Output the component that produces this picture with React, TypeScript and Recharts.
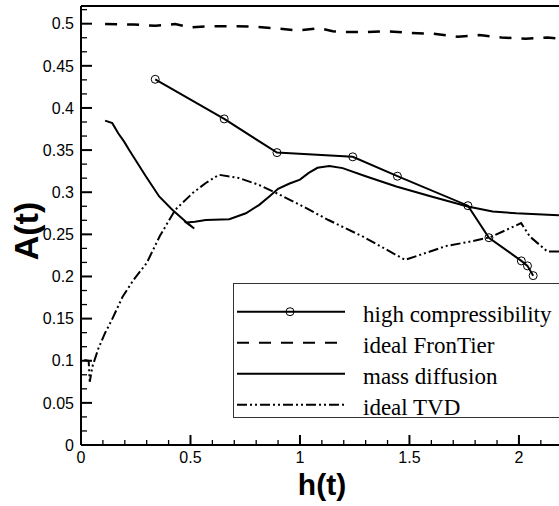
import React from "react";
import {
  LineChart,
  Line,
  XAxis,
  YAxis,
  ReferenceLine,
  Legend,
} from "recharts";

// high compressibility (solid with open circles)
const hcX = [0.339, 0.654, 0.895, 1.241, 1.445, 1.767, 1.863, 2.011, 2.039, 2.065];
const hcY = [0.434, 0.387, 0.347, 0.342, 0.319, 0.284, 0.246, 0.2185, 0.2126, 0.201];

// ideal FronTier (dashed)
const ftX = [0.11, 0.24, 0.34, 0.43, 0.5, 0.58, 0.69, 0.78, 0.89, 0.99, 1.09, 1.15, 1.2, 1.3, 1.4, 1.51, 1.61, 1.72, 1.82, 1.92, 2.03, 2.13, 2.2];
const ftY = [0.4995, 0.499, 0.4975, 0.4995, 0.4955, 0.497, 0.497, 0.4965, 0.4945, 0.492, 0.4945, 0.491, 0.49, 0.49, 0.491, 0.489, 0.488, 0.4845, 0.4865, 0.4837, 0.482, 0.4837, 0.482];

// mass diffusion (solid)
const mdX = [0.11, 0.143, 0.17, 0.197, 0.22, 0.296, 0.357, 0.418, 0.479, 0.517, 0.48, 0.52, 0.57, 0.677, 0.753, 0.814, 0.86, 0.9, 0.95, 1.0, 1.04, 1.08, 1.134, 1.195, 1.3, 1.44, 1.6, 1.766, 1.88, 1.988, 2.156, 2.2];
const mdY = [0.385, 0.382, 0.37, 0.36, 0.35, 0.319, 0.295, 0.279, 0.265, 0.257, 0.264, 0.265, 0.267, 0.268, 0.275, 0.285, 0.295, 0.304, 0.31, 0.315, 0.323, 0.329, 0.331, 0.3286, 0.319, 0.3068, 0.295, 0.283, 0.277, 0.275, 0.273, 0.2725];

// ideal TVD (dash-dot-dot)
const tvX = [0.015, 0.035, 0.04, 0.052, 0.08, 0.11, 0.14, 0.19, 0.24, 0.3, 0.36, 0.43, 0.51, 0.57, 0.63, 0.72, 0.81, 0.9, 1.0, 1.13, 1.29, 1.48, 1.67, 1.78, 1.87, 2.01, 2.05, 2.13, 2.2];
const tvY = [0.101, 0.1, 0.075, 0.093, 0.115, 0.133, 0.148, 0.176, 0.196, 0.216, 0.248, 0.279, 0.299, 0.311, 0.3207, 0.317, 0.309, 0.298, 0.285, 0.267, 0.247, 0.2197, 0.2363, 0.2415, 0.2467, 0.2633, 0.2474, 0.2296, 0.2296];

const xMajor = [0, 0.5, 1, 1.5, 2];
const xMinor = [0.1, 0.2, 0.3, 0.4, 0.6, 0.7, 0.8, 0.9, 1.1, 1.2, 1.3, 1.4, 1.6, 1.7, 1.8, 1.9, 2.1];
const yMajor = [0, 0.05, 0.1, 0.15, 0.2, 0.25, 0.3, 0.35, 0.4, 0.45, 0.5];
const yMinor = yMajor.flatMap((v) => [v + 1 / 60, v + 2 / 60]);

const X_MAX = 2.183;
const Y_MAX = 0.521;

const toPoints = (xs: number[], ys: number[]) => xs.map((x, i) => ({ x, y: ys[i] }));

const series = [
  { name: "high compressibility", data: toPoints(hcX, hcY), dash: undefined, width: 2, marker: true },
  { name: "ideal FronTier", data: toPoints(ftX, ftY), dash: "12 10", width: 2.5, marker: false },
  { name: "mass diffusion", data: toPoints(mdX, mdY), dash: undefined, width: 2, marker: false },
  { name: "ideal TVD", data: toPoints(tvX, tvY), dash: "10 3 2 3 2 3", width: 2, marker: false },
];

const sansFont = "'Liberation Sans', Arial, Helvetica, sans-serif";
const serifFont = "'Liberation Serif', 'Times New Roman', serif";

const isMajor = (v: number, majors: number[]) => majors.some((m) => Math.abs(m - v) < 1e-6);

function XTick(props: any) {
  const { x, y, payload } = props;
  const major = isMajor(payload.value, xMajor);
  return (
    <g>
      <line x1={x} x2={x} y1={y} y2={y - (major ? 10 : 5)} stroke="#000" strokeWidth={major ? 2 : 1.3} />
      {major && (
        <text x={x} y={y + 18} textAnchor="middle" fontSize={16} fontFamily={sansFont} fill="#000">
          {String(payload.value)}
        </text>
      )}
    </g>
  );
}

function YTick(props: any) {
  const { x, y, payload } = props;
  const major = isMajor(payload.value, yMajor);
  return (
    <g>
      <line x1={x} x2={x + (major ? 11 : 6)} y1={y} y2={y} stroke="#000" strokeWidth={major ? 2 : 1.3} />
      {major && (
        <text x={x - 7} y={y} dy="0.36em" textAnchor="end" fontSize={16} fontFamily={sansFont} fill="#000">
          {String(Math.round(payload.value * 100) / 100)}
        </text>
      )}
    </g>
  );
}

function LegendBox() {
  const rowH = 31;
  return (
    <svg width={340} height={142} style={{ display: "block", overflow: "visible" }}>
      <rect x={0.5} y={0.5} width={338} height={134} fill="#fff" stroke="#333" strokeWidth={1} />
      {series.map((s, i) => {
        const cy = 28.7 + i * rowH;
        return (
          <g key={s.name}>
            <line x1={4} x2={112} y1={cy} y2={cy} stroke="#000" strokeWidth={2} strokeDasharray={s.dash} />
            {s.marker && <circle cx={57} cy={cy} r={4} fill="none" stroke="#000" strokeWidth={1} />}
            <text x={130} y={cy + 10} fontSize={23} fontFamily={serifFont} fill="#000">
              {s.name}
            </text>
          </g>
        );
      })}
    </svg>
  );
}

export default function App() {
  return (
    <div style={{ position: "absolute", left: 0, top: 0, width: 559, height: 506, overflow: "hidden", background: "#fff" }}>
      <LineChart width={559} height={506} margin={{ top: 6, right: 0, bottom: 0, left: 0 }}>
        <XAxis
          type="number"
          dataKey="x"
          domain={[0, X_MAX]}
          allowDataOverflow
          ticks={[...xMajor, ...xMinor]}
          interval={0}
          tickSize={0}
          tickMargin={0}
          tickLine={false}
          tick={<XTick />}
          height={61}
          axisLine={{ stroke: "#000", strokeWidth: 2 }}
          label={{
            content: () => (
              <text x={322} y={495} textAnchor="middle" fontSize={30} fontWeight="bold" fontFamily={sansFont} fill="#000">
                h(t)
              </text>
            ),
          }}
        />
        <YAxis
          type="number"
          dataKey="y"
          domain={[0, Y_MAX]}
          allowDataOverflow
          ticks={[...yMajor, ...yMinor]}
          interval={0}
          tickSize={0}
          tickMargin={0}
          tickLine={false}
          tick={<YTick />}
          width={81}
          axisLine={{ stroke: "#000", strokeWidth: 2 }}
          label={{
            content: () => (
              <text
                x={38}
                y={231}
                textAnchor="middle"
                transform="rotate(-90 38 231)"
                fontSize={34}
                fontWeight="bold"
                fontFamily={sansFont}
                fill="#000"
              >
                A(t)
              </text>
            ),
          }}
        />
        <ReferenceLine y={Y_MAX} stroke="#000" strokeWidth={2} />
        {series.map((s) => (
          <Line
            key={s.name}
            data={s.data}
            dataKey="y"
            name={s.name}
            type="linear"
            stroke="#000"
            strokeWidth={s.width}
            strokeDasharray={s.dash}
            dot={s.marker ? { r: 4, stroke: "#000", strokeWidth: 1, fill: "none" } : false}
            activeDot={false}
            isAnimationActive={false}
          />
        ))}
        <Legend
          layout="vertical"
          align="center"
          verticalAlign="middle"
          wrapperStyle={{ left: 233, top: 283, width: 340, height: 142 }}
          content={() => <LegendBox />}
        />
      </LineChart>
    </div>
  );
}
